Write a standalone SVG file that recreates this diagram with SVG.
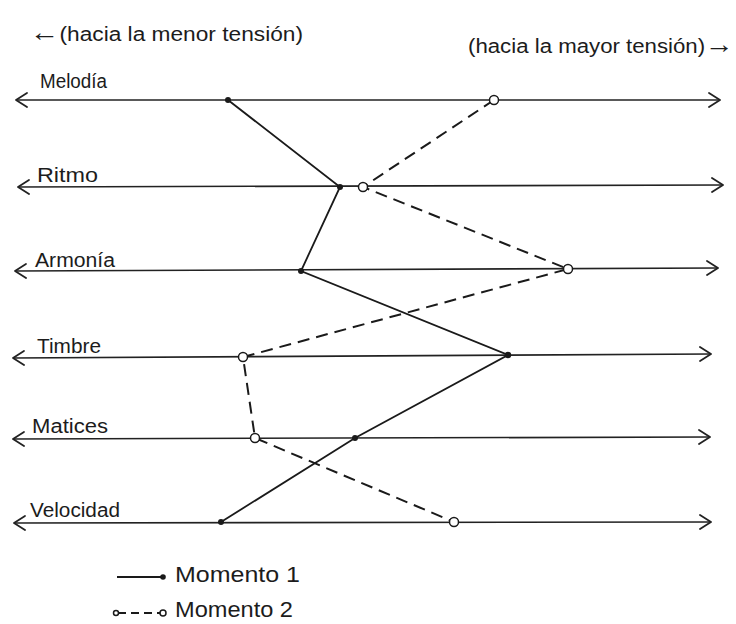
<svg xmlns="http://www.w3.org/2000/svg" width="736" height="624" viewBox="0 0 736 624">
<style>
  text { font-family: "Liberation Sans", "DejaVu Sans", sans-serif; fill: #1c1c1c; }
  .lbl { font-size: 20px; }
  .hdr { font-size: 20px; }
  .leg { font-size: 22px; }
  .axis { stroke: #222; stroke-width: 1.6; fill: none; marker-start: url(#chev); marker-end: url(#chev); }
  .m1 { stroke: #1a1a1a; stroke-width: 1.8; fill: none; }
  .m2 { stroke: #1a1a1a; stroke-width: 2; fill: none; stroke-dasharray: 12 7; }
  .dot1 { fill: #1a1a1a; }
  .dot2 { fill: #fff; stroke: #1a1a1a; stroke-width: 1.5; }
</style>
<defs>
  <marker id="chev" viewBox="0 0 13 16" refX="12" refY="8" markerWidth="13" markerHeight="16" markerUnits="userSpaceOnUse" orient="auto-start-reverse">
    <path d="M1,1 L12,8 L1,15" fill="none" stroke="#222" stroke-width="1.8" stroke-linecap="round" stroke-linejoin="round"/>
  </marker>
</defs>
<rect width="736" height="624" fill="#fff"/>

<g id="headers">
  <text class="hdr" x="30" y="41" textLength="273" lengthAdjust="spacingAndGlyphs"><tspan font-size="26">←</tspan>(hacia la menor tensión)</text>
  <text class="hdr" x="468" y="53" textLength="266" lengthAdjust="spacingAndGlyphs">(hacia la mayor tensión)<tspan font-size="26">→</tspan></text>
</g>

<g id="melodia">
  <path class="axis" d="M16,100 L720,100"/>
  <text class="lbl" x="40" y="88" textLength="67" lengthAdjust="spacingAndGlyphs">Melodía</text>
</g>
<g id="ritmo">
  <path class="axis" d="M18,187 L723,185"/>
  <text class="lbl" x="37" y="182" textLength="61" lengthAdjust="spacingAndGlyphs">Ritmo</text>
</g>
<g id="armonia">
  <path class="axis" d="M15,271 L718,268"/>
  <text class="lbl" x="35" y="267" textLength="80" lengthAdjust="spacingAndGlyphs">Armonía</text>
</g>
<g id="timbre">
  <path class="axis" d="M13,358 L711,354"/>
  <text class="lbl" x="37" y="353" textLength="64" lengthAdjust="spacingAndGlyphs">Timbre</text>
</g>
<g id="matices">
  <path class="axis" d="M13,439 L710,437"/>
  <text class="lbl" x="32" y="433" textLength="76" lengthAdjust="spacingAndGlyphs">Matices</text>
</g>
<g id="velocidad">
  <path class="axis" d="M14,523 L711,522"/>
  <text class="lbl" x="30" y="517" textLength="90" lengthAdjust="spacingAndGlyphs">Velocidad</text>
</g>

<g id="connectors">
  <polyline class="m1" points="228,100 340,187 301,271 508,355 355,438 221,522"/>
  <polyline class="m2" points="494,100 363,187 568,269 243,357 255,438 454,522"/>
</g>

<g id="momento1-points">
  <circle class="dot1" cx="228" cy="100" r="3"/>
  <circle class="dot1" cx="340" cy="187" r="3"/>
  <circle class="dot1" cx="301" cy="271" r="3"/>
  <circle class="dot1" cx="508" cy="355" r="3.2"/>
  <circle class="dot1" cx="355" cy="438" r="3"/>
  <circle class="dot1" cx="221" cy="522" r="3"/>
</g>
<g id="momento2-points">
  <circle class="dot2" cx="494" cy="100" r="4.5"/>
  <circle class="dot2" cx="363" cy="187" r="4.5"/>
  <circle class="dot2" cx="568" cy="269" r="4.5"/>
  <circle class="dot2" cx="243" cy="357" r="4.5"/>
  <circle class="dot2" cx="255" cy="438" r="4.5"/>
  <circle class="dot2" cx="454" cy="522" r="4.5"/>
</g>

<g id="legend">
  <line class="m1" x1="117" y1="577" x2="162" y2="577"/>
  <circle class="dot1" cx="163" cy="577" r="2.8"/>
  <text class="leg" x="175" y="582" textLength="125" lengthAdjust="spacingAndGlyphs">Momento  1</text>
  <line class="m2" x1="118" y1="613" x2="160" y2="613" style="stroke-dasharray: 8 5"/>
  <circle class="dot2" cx="116" cy="613" r="2.5"/>
  <circle class="dot2" cx="163" cy="613" r="3"/>
  <text class="leg" x="175" y="617" textLength="118" lengthAdjust="spacingAndGlyphs">Momento  2</text>
</g>
</svg>
